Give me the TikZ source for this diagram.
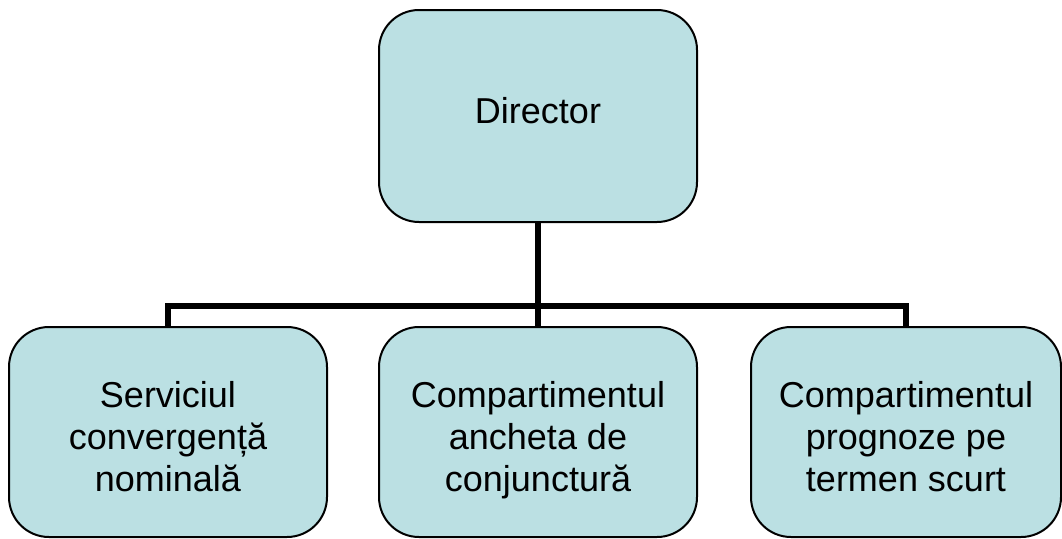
\documentclass[tikz,border=0pt]{standalone}
\usepackage{fontspec}
\setmainfont{Liberation Sans}
\definecolor{boxfill}{HTML}{BBE0E3}
\begin{document}
\begin{tikzpicture}[x=1pt,y=-1pt,
  unit/.style={draw=black, line width=2pt, fill=boxfill, rounded corners=40pt,
    minimum width=318pt, minimum height=210pt, inner sep=0pt},
  caption/.style={align=center, inner sep=0pt,
    font=\fontsize{36}{42}\selectfont},
  link/.style={line width=5.5pt, line cap=butt, line join=miter}]
  \useasboundingbox (0,0) rectangle (1062,538);
  % head of the department
  \node[unit, minimum height=212pt] (dir) at (538,116) {};
  \node[caption] (dirt) at (538,110.5) {Director};
  % subordinate units
  \node[unit] (conv) at (168,432) {};
  \node[unit] (anch) at (538,432) {};
  \node[unit, minimum width=310pt] (prog) at (906,432) {};
  \node[caption] (convt) at (168,437) {Serviciul\\convergență\\nominală};
  \node[caption] (ancht) at (538,440) {Compartimentul\\ancheta de\\conjunctură};
  \node[caption] (progt) at (906,437) {Compartimentul\\prognoze pe\\termen scurt};
  % organisational links
  \coordinate (bus) at (538,306);
  \draw[link] (dir.south) -- (anch.north);
  \draw[link] (conv.north) |- (bus) -| (prog.north);
\end{tikzpicture}
\end{document}
